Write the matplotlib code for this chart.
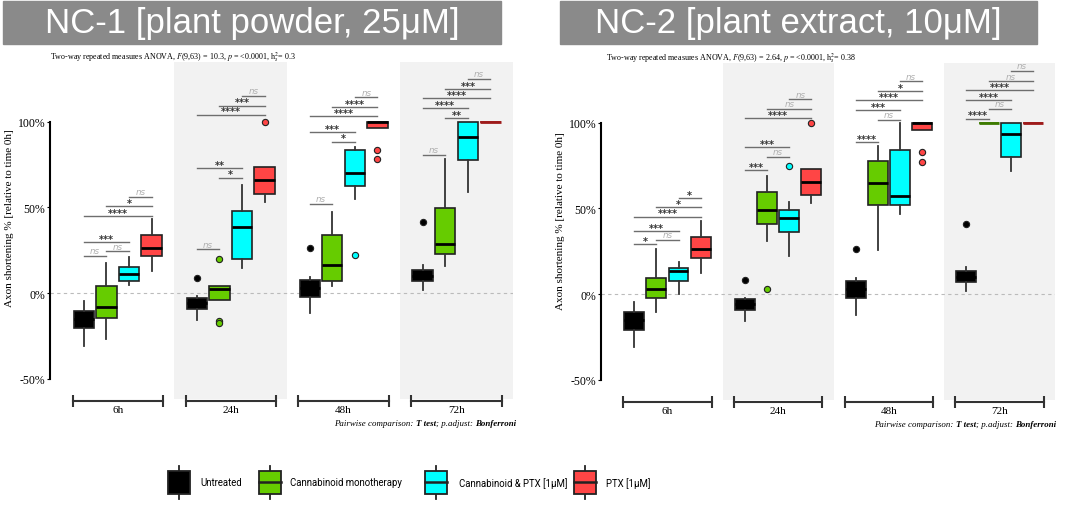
import matplotlib.pyplot as plt
from matplotlib.patches import Rectangle

plt.rcParams['mathtext.fontset'] = 'stix'
SERIF = 'Liberation Serif'

W, H = 1065, 506

groups = ['6h', '24h', '48h', '72h']
treatments = ['Untreated', 'Cannabinoid monotherapy', 'Cannabinoid & PTX [1μM]', 'PTX [1μM]']
box_colors = ['#000000', '#66cc00', '#00ffff', '#ff4545']
flat_colors = ['#000000', '#3d7a00', '#008b8b', '#9e1b1b']

# box stats per group and treatment: (whisker low, q1, median, q3, whisker high)
nc1_stats = [
    [(-31.0, -20.6, -15.0, -10.3, -4.7), (-26.8, -14.6, -8.2, 4.1, 17.5),
     (4.7, 6.8, 11.1, 15.0, 20.8), (12.6, 21.4, 26.3, 34.0, 43.2)],
    [(-15.6, -9.2, -6.0, -2.7, -1.8), (-4.1, -4.1, 2.3, 3.9, 4.3),
     (14.4, 19.8, 38.5, 47.7, 63.0), (53.3, 57.6, 65.9, 73.3, 73.3)],
    [(-11.7, -2.1, 3.0, 7.8, 9.5), (3.9, 7.2, 16.5, 33.8, 47.5),
     (54.8, 62.6, 69.8, 83.3, 85.0), (96.0, 96.0, 99.8, 100.0, 100.0)],
    [(1.9, 7.0, 10.0, 13.6, 16.3), (15.9, 22.8, 28.6, 49.6, 78.2),
     (58.7, 77.4, 91.2, 100.0, 100.0), (100.0, 100.0, 100.0, 100.0, 100.0)],
]
nc1_fliers = [
    [[], [], [], []],
    [[8.6], [19.8, -16.6, -17.6], [], [100.0]],
    [[26.4], [], [22.0], [83.4, 78.4]],
    [[41.2], [], [], []],
]

nc2_stats = [
    [(-31.1, -20.8, -15.0, -10.7, -4.9), (-10.7, -2.5, 2.9, 9.2, 26.3),
     (0.0, 7.4, 13.2, 15.0, 18.5), (12.3, 21.0, 26.3, 33.4, 42.8)],
    [(-15.6, -9.2, -6.0, -2.9, -2.3), (31.1, 41.2, 49.2, 59.5, 68.7),
     (22.0, 36.3, 44.3, 49.2, 53.5), (53.1, 57.8, 65.7, 72.9, 72.9)],
    [(-12.1, -2.5, 3.0, 7.8, 9.3), (25.7, 52.1, 64.8, 77.8, 86.5),
     (46.7, 52.1, 57.4, 84.2, 99.8), (95.7, 95.7, 99.8, 100.0, 100.0)],
    [(1.9, 6.8, 10.0, 13.2, 15.9), (100.0, 100.0, 100.0, 100.0, 100.0),
     (71.9, 80.3, 93.3, 99.8, 99.8), (100.0, 100.0, 100.0, 100.0, 100.0)],
]
nc2_fliers = [
    [[], [], [], []],
    [[8.4], [2.9], [74.9], [99.8]],
    [[26.3], [], [], [83.0, 77.4]],
    [[41.2], [], [], []],
]

# pairwise comparisons, same order in every group
sig_pairs = [(2, 3), (1, 3), (0, 3), (0, 2), (1, 2), (0, 1)]
nc1_sig_y = [
    [56.2, 50.8, 44.7, 29.8, 24.3, 21.8],
    [115.1, 109.3, 104.0, 72.7, 67.3, 25.5],
    [114.2, 108.3, 103.1, 93.9, 88.3, 51.9],
    [124.9, 119.0, 113.6, 107.8, 102.1, 80.7],
]
nc1_sig_text = [
    ['ns', '*', '****', '***', 'ns', 'ns'],
    ['ns', '***', '****', '**', '*', 'ns'],
    ['ns', '****', '****', '***', '*', 'ns'],
    ['ns', '***', '****', '****', '**', 'ns'],
]
nc2_sig_y = [
    [56.2, 50.8, 45.3, 36.8, 31.5, 29.0],
    [113.8, 108.3, 102.7, 85.8, 80.1, 72.2],
    [124.3, 118.6, 113.2, 107.4, 101.9, 89.0],
    [130.3, 124.4, 119.0, 113.2, 108.3, 102.5],
]
nc2_sig_text = [
    ['*', '*', '****', '***', 'ns', '*'],
    ['ns', 'ns', '****', '***', 'ns', '***'],
    ['ns', '*', '****', '***', 'ns', '****'],
    ['ns', 'ns', '****', '****', 'ns', '****'],
]

offsets = [-0.3, -0.1, 0.1, 0.3]


def fx(x):
    return x / W


def fy(y):
    return 1 - y / H


def draw_panel(ax, stats, fliers, sig_y, sig_text):
    ax.set_xlim(-0.6, 3.5)
    ax.set_ylim(-75, 135)
    for g in range(len(groups)):
        if g % 2 == 1:
            ax.fill_between([g - 0.5, g + 0.5], -61.8, 135, color='#f2f2f2', lw=0, zorder=0)
        # group bracket + label
        ax.plot([g - 0.4, g + 0.4], [-63, -63], color='#333333', lw=1.5,
                marker='|', ms=9, mew=1.5, clip_on=False, zorder=3)
        ax.text(g, -67.8, groups[g], ha='center', va='center', fontsize=8, family=SERIF)
        for t in range(len(treatments)):
            lo, q1, med, q3, hi = stats[g][t]
            st = [dict(whislo=lo, q1=q1, med=med, q3=q3, whishi=hi, fliers=fliers[g][t])]
            flat = q1 == q3
            edge = flat_colors[t] if flat else '#222222'
            ax.bxp(st, positions=[g + offsets[t]], widths=0.18, patch_artist=True,
                   showcaps=False,
                   boxprops=dict(facecolor=box_colors[t], edgecolor=edge, lw=1.2),
                   medianprops=dict(color=flat_colors[t] if flat else 'black', lw=2),
                   whiskerprops=dict(color='#333333', lw=1.3),
                   flierprops=dict(marker='o', markerfacecolor=box_colors[t],
                                   markeredgecolor='#222222', markersize=4.5, mew=0.8),
                   zorder=3, manage_ticks=False)
        for (i, j), y, s in zip(sig_pairs, sig_y[g], sig_text[g]):
            x0, x1 = g + offsets[i], g + offsets[j]
            ax.plot([x0, x1], [y, y], color='#6e6e6e', lw=1.0, zorder=2)
            if s == 'ns':
                ax.text((x0 + x1) / 2, y + 3.0, s, ha='center', va='center',
                        fontsize=6.3, style='italic', color='#b0b0b0')
            else:
                ax.text((x0 + x1) / 2, y + 1.9, s, ha='center', va='center',
                        fontsize=7, fontweight='bold', color='#333333')
    ax.axhline(0, color='#bbbbbb', ls=(0, (3, 3)), lw=0.8, zorder=1)
    for side in ['top', 'right', 'bottom']:
        ax.spines[side].set_visible(False)
    ax.spines['left'].set_bounds(-50, 100)
    ax.spines['left'].set_linewidth(1.5)
    ax.set_xticks([])
    ax.set_yticks([-50, 0, 50, 100])
    ax.set_yticklabels(['-50%', '0%', '50%', '100%'], family=SERIF, fontsize=8.5)
    ax.tick_params(axis='y', length=2.5, width=0.8, pad=1)
    ax.set_ylabel('Axon shortening % [relative to time 0h]', family=SERIF, fontsize=8)
    ax.patch.set_alpha(0)


def pairwise_note(ax, x, y):
    parts = [('Pairwise comparison: ', 'normal'), ('T test', 'bold'),
             ('; p.adjust: ', 'normal'), ('Bonferroni', 'bold')]
    t = fig.text(fx(x), fy(y), parts[-1][0], ha='right', va='center', style='italic',
                 weight='bold', family=SERIF, fontsize=6.4)
    for s, w in reversed(parts[:-1]):
        t = ax.annotate(s, xy=(0, 0), xycoords=t, ha='right', va='bottom', style='italic',
                        weight=w, family=SERIF, fontsize=6.4, annotation_clip=False)


def banner(x0, x1, text):
    fig.patches.append(Rectangle((fx(x0), fy(45)), fx(x1 - x0), 43 / H,
                                 transform=fig.transFigure, color='#8a8a8a', zorder=0))
    fig.text(fx((x0 + x1) / 2), fy(24), text, ha='center', va='center', color='white',
             fontsize=25, family='Liberation Sans')


fig = plt.figure(figsize=(W / 100, H / 100), dpi=100)

ax1 = fig.add_axes([fx(50), 0.1648, 463 / W, 0.7115])
draw_panel(ax1, nc1_stats, nc1_fliers, nc1_sig_y, nc1_sig_text)
ax1.yaxis.set_label_coords(-0.078, 0.567)

ax2 = fig.add_axes([fx(601), 0.1634, 454 / W, 0.710])
draw_panel(ax2, nc2_stats, nc2_fliers, nc2_sig_y, nc2_sig_text)
ax2.yaxis.set_label_coords(-0.079, 0.562)

banner(3, 501, 'NC-1 [plant powder, 25μM]')
banner(560, 1037, 'NC-2 [plant extract, 10μM]')

fig.text(fx(50), fy(57), r'Two-way repeated measures ANOVA, $F$(9,63) = 10.3, $p$ = <0.0001, h$_{s}^{2}$= 0.3',
         ha='left', va='center', family=SERIF, fontsize=5.8)
fig.text(fx(606), fy(58), r'Two-way repeated measures ANOVA, $F$(9,63) = 2.64, $p$ = <0.0001, h$_{s}^{2}$= 0.38',
         ha='left', va='center', family=SERIF, fontsize=5.8)

pairwise_note(ax1, 516, 424)
pairwise_note(ax2, 1056, 425)

# legend
leg = fig.add_axes([0, 0, 1, 60 / H])
leg.set_xlim(0, W)
leg.set_ylim(H, H - 60)
leg.axis('off')
leg_x = [168, 259, 425, 574]
leg_tx = [200, 290, 459, 606]
for t in range(len(treatments)):
    x = leg_x[t]
    leg.plot([x + 11, x + 11], [466.5, 500], color='#222222', lw=1.3, zorder=1)
    leg.add_patch(Rectangle((x, 471.5), 22, 23.5, facecolor=box_colors[t],
                            edgecolor='#222222', lw=1.3, zorder=2))
    if t > 0:
        leg.plot([x, x + 22], [483.3, 483.3], color='#222222', lw=1.8, zorder=3)
    leg.text(leg_tx[t], 483.3, treatments[t], ha='left', va='center', fontsize=6.9,
             family='Roboto')

fig.savefig('out.png', dpi=100)
